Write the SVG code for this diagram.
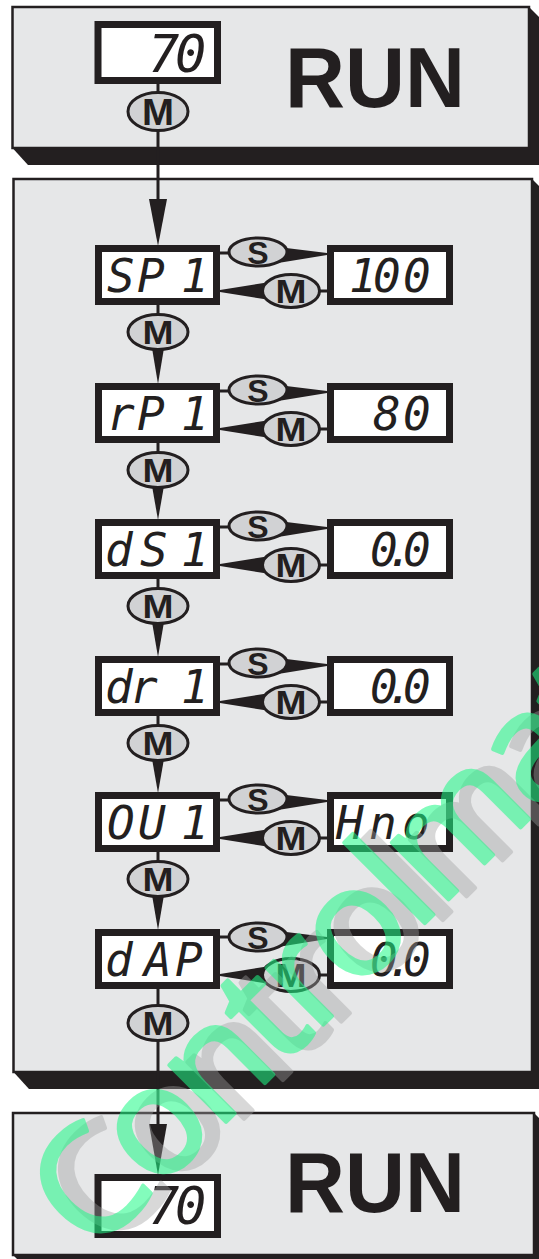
<svg xmlns="http://www.w3.org/2000/svg" width="539" height="1259" viewBox="0 0 539 1259">
<style>
.face{fill:#e6e7e8;stroke:#231f20;stroke-width:2.5}
.shadow{fill:#231f20}
.disp{fill:#fff;stroke:#231f20;stroke-width:7}
.seg{font-family:"DejaVu Sans Mono","Liberation Mono",monospace;font-style:oblique;fill:#231f20;font-size:46px}
.big{font-size:52px}
.btn{fill:#d1d2d4;stroke:#231f20;stroke-width:3}
.lbl{font-family:"Liberation Sans",Arial,sans-serif;font-weight:bold;fill:#231f20;text-anchor:middle}
.m{font-size:33px}
.mt{font-size:36px}
.s{font-size:32px}
.wire{stroke:#231f20;stroke-width:3;fill:none}
.head{fill:#231f20}
.run{font-family:"Liberation Sans",Arial,sans-serif;font-weight:bold;font-size:86px;fill:#231f20}
.wm{font-family:"Open Sans","Liberation Sans",sans-serif;font-size:150px;letter-spacing:-4px;stroke-width:4;stroke-linejoin:round}
</style>
<rect width="539" height="1259" fill="#fff"/>
<g id="box-run-top">
<polygon class="shadow" points="529,7 539,17 539,165 28,165 12.5,148"/>
<rect class="face" x="12.5" y="7" width="516.5" height="141"/>
<text class="run" x="285" y="106.5" textLength="180" lengthAdjust="spacingAndGlyphs">RUN</text>
</g>
<g id="box-menu">
<polygon class="shadow" points="532,179 539,186 539,1089 29,1089 13.5,1072"/>
<rect class="face" x="13.5" y="179" width="518.5" height="893"/>
</g>
<g id="box-run-bottom">
<polygon class="shadow" points="534,1113 539,1118 539,1259 17,1259 13,1255"/>
<rect class="face" x="13" y="1113" width="521" height="142"/>
<text class="run" x="285" y="1212" textLength="180" lengthAdjust="spacingAndGlyphs">RUN</text>
</g>
<g id="connectors">
<line class="wire" x1="158" y1="84" x2="158" y2="210"/>
<polygon class="head" points="149,199 167,199 158,246"/>
<line class="wire" x1="220" y1="253" x2="232" y2="253"/>
<polygon class="head" points="278,247 327,253 327,255 278,263"/>
<polygon class="head" points="220,290 270,282 270,300 220,292"/>
<line class="wire" x1="318" y1="291" x2="327" y2="291"/>
<line class="wire" x1="158" y1="305" x2="158" y2="317"/>
<polygon class="head" points="151.5,345 164.5,345 158,384"/>
<line class="wire" x1="220" y1="391" x2="232" y2="391"/>
<polygon class="head" points="278,385 327,391 327,393 278,401"/>
<polygon class="head" points="220,428 270,420 270,438 220,430"/>
<line class="wire" x1="318" y1="429" x2="327" y2="429"/>
<line class="wire" x1="158" y1="443" x2="158" y2="455"/>
<polygon class="head" points="151.5,483 164.5,483 158,520"/>
<line class="wire" x1="220" y1="527" x2="232" y2="527"/>
<polygon class="head" points="278,521 327,527 327,529 278,537"/>
<polygon class="head" points="220,564 270,556 270,574 220,566"/>
<line class="wire" x1="318" y1="565" x2="327" y2="565"/>
<line class="wire" x1="158" y1="579" x2="158" y2="591"/>
<polygon class="head" points="151.5,619 164.5,619 158,657"/>
<line class="wire" x1="220" y1="664" x2="232" y2="664"/>
<polygon class="head" points="278,658 327,664 327,666 278,674"/>
<polygon class="head" points="220,701 270,693 270,711 220,703"/>
<line class="wire" x1="318" y1="702" x2="327" y2="702"/>
<line class="wire" x1="158" y1="716" x2="158" y2="728"/>
<polygon class="head" points="151.5,756 164.5,756 158,793"/>
<line class="wire" x1="220" y1="800" x2="232" y2="800"/>
<polygon class="head" points="278,794 327,800 327,802 278,810"/>
<polygon class="head" points="220,837 270,829 270,847 220,839"/>
<line class="wire" x1="318" y1="838" x2="327" y2="838"/>
<line class="wire" x1="158" y1="852" x2="158" y2="864"/>
<polygon class="head" points="151.5,892 164.5,892 158,930"/>
<line class="wire" x1="220" y1="937" x2="232" y2="937"/>
<polygon class="head" points="278,931 327,937 327,939 278,947"/>
<polygon class="head" points="220,974 270,966 270,984 220,976"/>
<line class="wire" x1="318" y1="975" x2="327" y2="975"/>
<line class="wire" x1="158" y1="989" x2="158" y2="1130"/>
<polygon class="head" points="149,1124 167,1124 158,1175"/>
</g>
<g id="display-top">
<rect class="disp" x="98" y="24.5" width="119.5" height="56"/>
<text class="seg big" x="148 175" y="72">70</text>
</g>
<g id="btn-m-top"><ellipse class="btn" cx="158" cy="111.5" rx="30" ry="19"/><text class="lbl mt" x="158" y="124.5" textLength="32" lengthAdjust="spacingAndGlyphs">M</text></g>
<g id="row-sp1">
<rect class="disp" x="98.5" y="248.5" width="118" height="53"/>
<text class="seg" x="107 137 181" y="292">SP1</text>
<rect class="disp" x="330.5" y="248.5" width="119" height="53"/>
<text class="seg" x="349 373 403" y="292">100</text>
<ellipse class="btn" cx="258" cy="252" rx="29" ry="14"/><text class="lbl s" x="258" y="263.5">S</text>
<ellipse class="btn" cx="291" cy="291" rx="28.5" ry="16.5"/><text class="lbl m" x="291" y="303" textLength="31" lengthAdjust="spacingAndGlyphs">M</text>
<ellipse class="btn" cx="158" cy="332" rx="30" ry="17.5"/><text class="lbl m" x="158" y="344" textLength="31" lengthAdjust="spacingAndGlyphs">M</text>
</g>
<g id="row-rp1">
<rect class="disp" x="98.5" y="386.5" width="118" height="53"/>
<text class="seg" x="107 137 181" y="430">rP1</text>
<rect class="disp" x="330.5" y="386.5" width="119" height="53"/>
<text class="seg" x="373 403" y="430">80</text>
<ellipse class="btn" cx="258" cy="390" rx="29" ry="14"/><text class="lbl s" x="258" y="401.5">S</text>
<ellipse class="btn" cx="291" cy="429" rx="28.5" ry="16.5"/><text class="lbl m" x="291" y="441" textLength="31" lengthAdjust="spacingAndGlyphs">M</text>
<ellipse class="btn" cx="158" cy="470" rx="30" ry="17.5"/><text class="lbl m" x="158" y="482" textLength="31" lengthAdjust="spacingAndGlyphs">M</text>
</g>
<g id="row-ds1">
<rect class="disp" x="98.5" y="522.5" width="118" height="53"/>
<text class="seg" x="105 140 181" y="566">dS1</text>
<rect class="disp" x="330.5" y="522.5" width="119" height="53"/>
<text class="seg" x="370 386 403" y="566">0.0</text>
<ellipse class="btn" cx="258" cy="526" rx="29" ry="14"/><text class="lbl s" x="258" y="537.5">S</text>
<ellipse class="btn" cx="291" cy="565" rx="28.5" ry="16.5"/><text class="lbl m" x="291" y="577" textLength="31" lengthAdjust="spacingAndGlyphs">M</text>
<ellipse class="btn" cx="158" cy="606" rx="30" ry="17.5"/><text class="lbl m" x="158" y="618" textLength="31" lengthAdjust="spacingAndGlyphs">M</text>
</g>
<g id="row-dr1">
<rect class="disp" x="98.5" y="659.5" width="118" height="53"/>
<text class="seg" x="105 130 181" y="703">dr1</text>
<rect class="disp" x="330.5" y="659.5" width="119" height="53"/>
<text class="seg" x="370 386 403" y="703">0.0</text>
<ellipse class="btn" cx="258" cy="663" rx="29" ry="14"/><text class="lbl s" x="258" y="674.5">S</text>
<ellipse class="btn" cx="291" cy="702" rx="28.5" ry="16.5"/><text class="lbl m" x="291" y="714" textLength="31" lengthAdjust="spacingAndGlyphs">M</text>
<ellipse class="btn" cx="158" cy="743" rx="30" ry="17.5"/><text class="lbl m" x="158" y="755" textLength="31" lengthAdjust="spacingAndGlyphs">M</text>
</g>
<g id="row-ou1">
<rect class="disp" x="98.5" y="795.5" width="118" height="53"/>
<text class="seg" x="107 138 181" y="839">OU1</text>
<rect class="disp" x="330.5" y="795.5" width="119" height="53"/>
<text class="seg" x="336 369 402" y="839">Hno</text>
<ellipse class="btn" cx="258" cy="799" rx="29" ry="14"/><text class="lbl s" x="258" y="810.5">S</text>
<ellipse class="btn" cx="291" cy="838" rx="28.5" ry="16.5"/><text class="lbl m" x="291" y="850" textLength="31" lengthAdjust="spacingAndGlyphs">M</text>
<ellipse class="btn" cx="158" cy="879" rx="30" ry="17.5"/><text class="lbl m" x="158" y="891" textLength="31" lengthAdjust="spacingAndGlyphs">M</text>
</g>
<g id="row-dap">
<rect class="disp" x="98.5" y="932.5" width="118" height="53"/>
<text class="seg" x="105 144 175" y="976">dAP</text>
<rect class="disp" x="330.5" y="932.5" width="119" height="53"/>
<text class="seg" x="370 386 403" y="976">0.0</text>
<ellipse class="btn" cx="258" cy="937" rx="29" ry="14"/><text class="lbl s" x="258" y="948.5">S</text>
<ellipse class="btn" cx="291" cy="975" rx="28.5" ry="16.5"/><text class="lbl m" x="291" y="987" textLength="31" lengthAdjust="spacingAndGlyphs">M</text>
<ellipse class="btn" cx="158" cy="1023" rx="30" ry="17.5"/><text class="lbl m" x="158" y="1035" textLength="31" lengthAdjust="spacingAndGlyphs">M</text>
</g>
<g id="display-bottom">
<rect class="disp" x="98" y="1177.5" width="119.5" height="57"/>
<text class="seg big" x="148 175" y="1224">70</text>
</g>
<g id="watermark">
<g opacity="0.4"><text class="wm" transform="translate(110,1253) rotate(-45)" fill="#a0a0a0" stroke="#a0a0a0">Controlmatic</text></g>
<g opacity="0.55"><text class="wm" transform="translate(92,1256) rotate(-45)" fill="#1efa87" stroke="#1efa87">Controlmatic</text></g>
</g>
</svg>
